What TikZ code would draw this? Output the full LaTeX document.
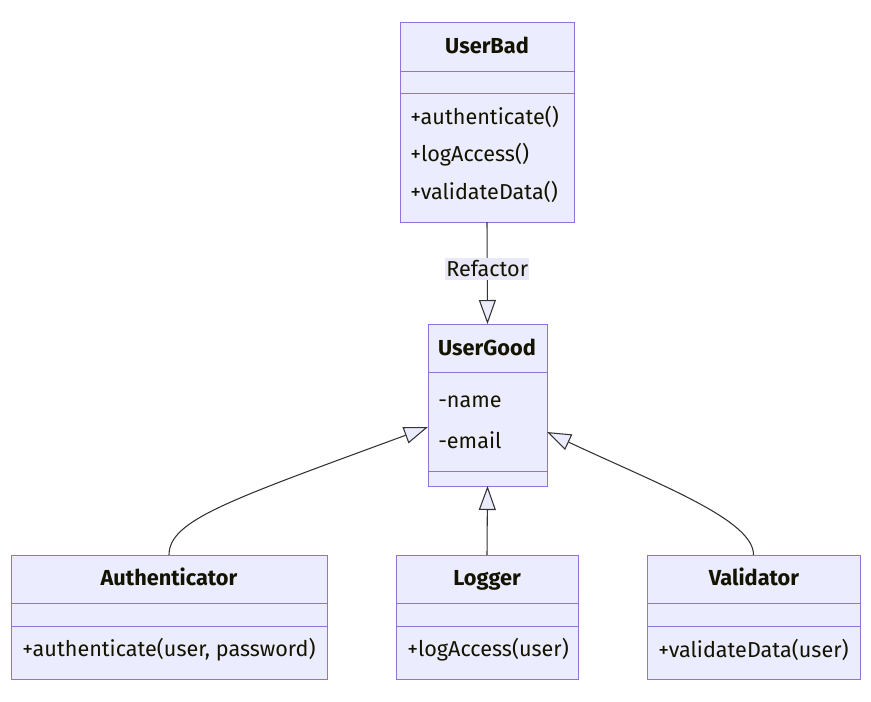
\documentclass[tikz,border=0pt]{standalone}
\usepackage{fontspec}
\setmainfont{Fira Sans}
\usetikzlibrary{arrows.meta,calc}
\definecolor{boxfill}{HTML}{ECECFF}
\definecolor{boxline}{HTML}{9370DB}
\definecolor{edgeline}{HTML}{333333}
\definecolor{txt}{HTML}{131300}
\definecolor{lblbg}{HTML}{E8E8F8}
\tikzset{
  classbox/.style={draw=boxline, fill=boxfill, line width=0.75pt, inner sep=0pt, outer sep=0pt},
  divider/.style={draw=boxline, line width=0.75pt},
  ttl/.style={font=\fontsize{16.3}{18}\selectfont\bfseries, text=txt, inner sep=0pt, anchor=base},
  mbr/.style={font=\fontsize{16.2}{18}\selectfont, text=txt, inner sep=0pt, anchor=west},
  ext/.style={draw=edgeline, line width=0.8pt, -{Triangle[open, fill=boxfill, length=18pt, width=12.75pt]}},
  lbl/.style={fill=lblbg, text=txt, font=\fontsize{16.2}{18}\selectfont, inner xsep=1pt, inner ysep=2pt}
}
\begin{document}
\begin{tikzpicture}[x=0.75pt, y=-0.75pt]
\useasboundingbox (0,0) rectangle (871,701);
% boxes
\node[classbox, minimum width=174*0.75pt, minimum height=200*0.75pt] (ub) at (487,122) {};
\node[classbox, minimum width=119*0.75pt, minimum height=162*0.75pt] (ug) at (487.5,405) {};
\node[classbox, minimum width=316*0.75pt, minimum height=124*0.75pt] (auth) at (169,617) {};
\node[classbox, minimum width=182*0.75pt, minimum height=124*0.75pt] (log) at (487,617) {};
\node[classbox, minimum width=213*0.75pt, minimum height=124*0.75pt] (val) at (753.5,617) {};
% dividers
\draw[divider] (400,71) -- (574,71);
\draw[divider] (400,93) -- (574,93);
\draw[divider] (428,372) -- (547,372);
\draw[divider] (428,471) -- (547,471);
\foreach \l/\r in {11/327, 396/578, 647/860}{
  \draw[divider] (\l,603) -- (\r,603);
  \draw[divider] (\l,626) -- (\r,626);
}
% texts
\node[ttl] (ubt) at (487,53.5) {UserBad};
\node[mbr] (ub1) at (410,117) {+authenticate()};
\node[mbr] (ub2) at (410,155) {+logAccess()};
\node[mbr] (ub3) at (410,192) {+validateData()};
\node[ttl] (ugt) at (487,355.5) {UserGood};
\node[mbr] (ug1) at (438,402) {-name};
\node[mbr] (ug2) at (438,440) {-email};
\node[ttl] (autht) at (169,585.5) {Authenticator};
\node[mbr] (auth1) at (22,650) {+authenticate(user, password)};
\node[ttl] (logt) at (487,585.5) {Logger};
\node[mbr] (log1) at (407,650) {+logAccess(user)};
\node[ttl] (valt) at (754,585.5) {Validator};
\node[mbr] (val1) at (658,650) {+validateData(user)};
% edges
\draw[ext] (ub.south) -- node[lbl, pos=0.46] (rl) {Refactor} (ug.north);
\draw[ext] (auth.north) .. controls (169,520) and (230,500) .. ($(ug.west)+(0,22)$);
\draw[ext] (log.north) -- (ug.south);
\draw[ext] (val.north) .. controls (754,520) and (660,485) .. ($(ug.east)+(0,27)$);
\end{tikzpicture}
\end{document}
